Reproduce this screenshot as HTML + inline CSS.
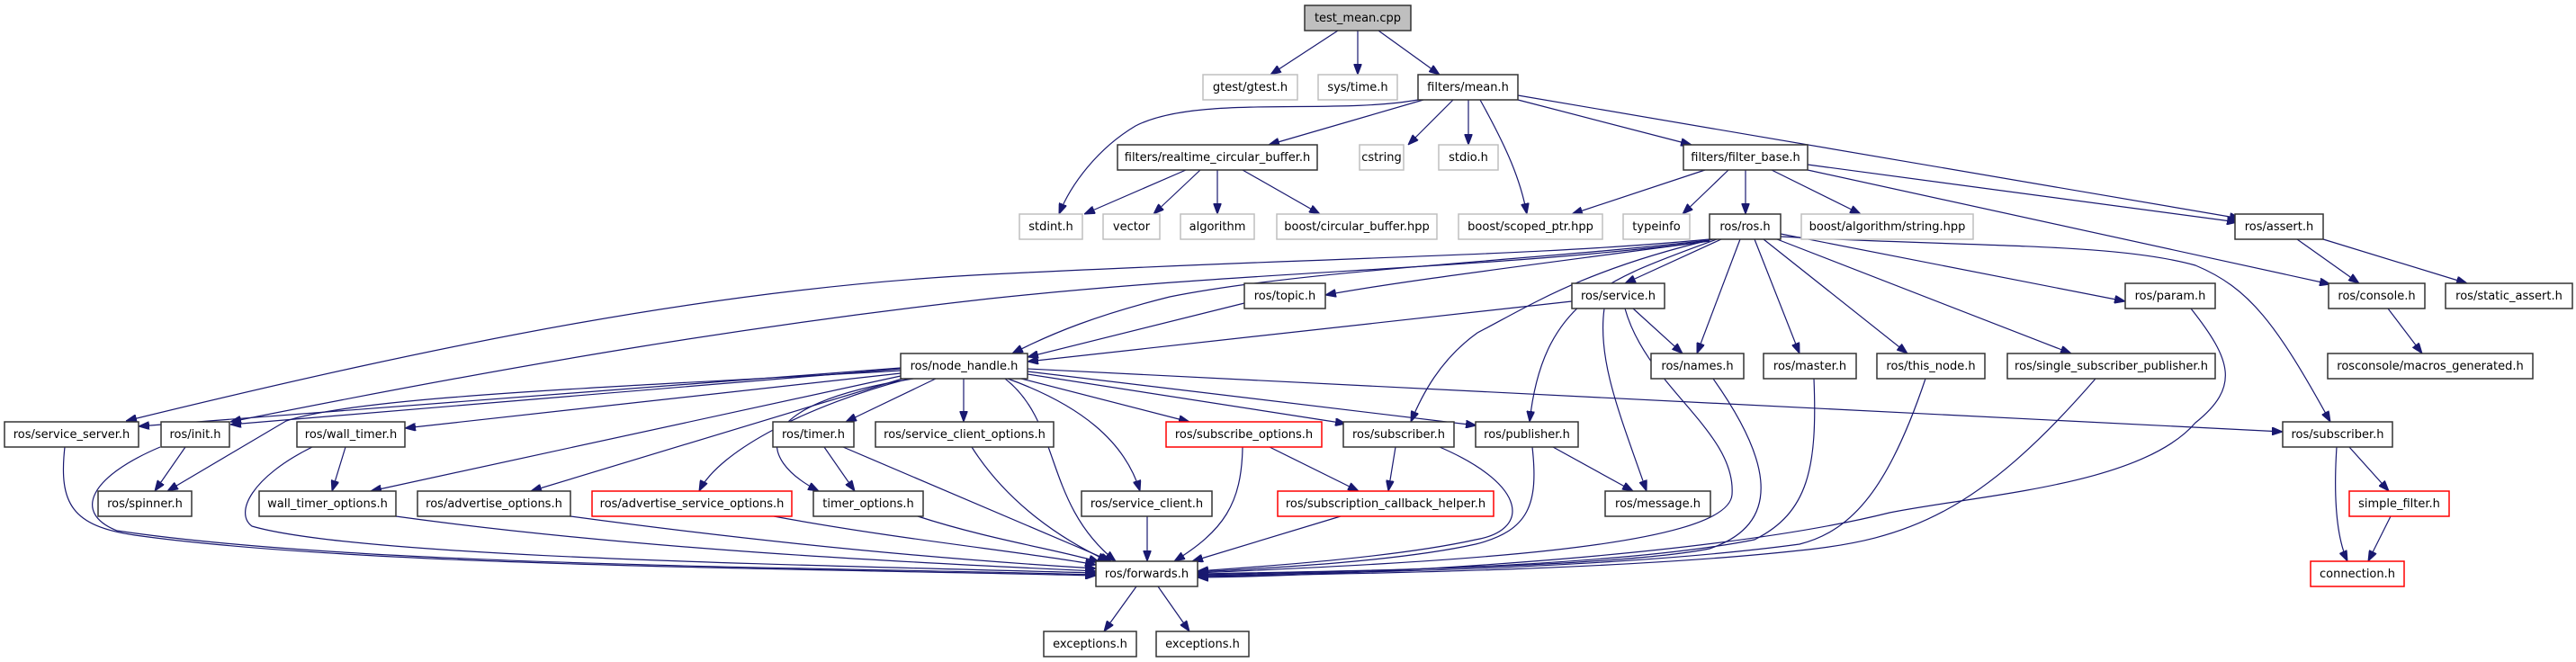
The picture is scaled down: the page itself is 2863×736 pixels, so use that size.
<!DOCTYPE html>
<html><head><meta charset="utf-8"><style>
html,body{margin:0;padding:0;background:#fff;}
svg{display:block;}
text{font-family:"DejaVu Sans","Liberation Sans",sans-serif;font-size:13px;fill:#000;text-anchor:middle;}
.n{fill:#fff;stroke:#333;stroke-width:1.5;}
.g{fill:#fff;stroke:#bfbfbf;stroke-width:1.5;}
.r{fill:#fff;stroke:#ff0000;stroke-width:1.5;}
.t{fill:#bfbfbf;stroke:#333;stroke-width:1.5;}
path.e{fill:none;stroke:#191970;stroke-width:1.2;marker-end:url(#a);}
</style></head><body>
<svg width="2863" height="736" viewBox="0 0 2863 736" xmlns="http://www.w3.org/2000/svg">
<defs><marker id="a" markerUnits="userSpaceOnUse" markerWidth="12" markerHeight="9" refX="12" refY="4.5" orient="auto"><path d="M0,0 L12,4.5 L0,9 z" fill="#191970" stroke="#191970"/></marker></defs>
<g>
<path class="e" d="M1487,34 L1412,83"/>
<path class="e" d="M1509,34 L1509,83"/>
<path class="e" d="M1532,34 L1600,83"/>
<path class="e" d="M1576,111 C1480,128 1330,105 1262,140 C1220,165 1190,205 1177,238"/>
<path class="e" d="M1582,111 L1410,161"/>
<path class="e" d="M1615,111 L1565,161"/>
<path class="e" d="M1632,111 L1632,161"/>
<path class="e" d="M1645,111 C1675,165 1690,200 1697,238"/>
<path class="e" d="M1687,111 L1880,161"/>
<path class="e" d="M1687,106 L2490,243"/>
<path class="e" d="M1318,189 L1205,238"/>
<path class="e" d="M1334,189 L1282,238"/>
<path class="e" d="M1353,189 L1353,238"/>
<path class="e" d="M1381,189 L1467,238"/>
<path class="e" d="M1895,189 L1747,238"/>
<path class="e" d="M1921,189 L1870,238"/>
<path class="e" d="M1940,189 L1940,238"/>
<path class="e" d="M1969,189 L2068,238"/>
<path class="e" d="M2009,183 L2487,247"/>
<path class="e" d="M2009,189 L2590,316"/>
<path class="e" d="M2553,266 L2622,315"/>
<path class="e" d="M2582,266 L2742,315"/>
<path class="e" d="M2654,343 L2692,393"/>
<path class="e" d="M1900,268 C1700,295 1560,312 1473,328"/>
<path class="e" d="M1913,266 L1806,315"/>
<path class="e" d="M1900,266 C1700,285 1500,285 1100,305 C800,320 500,380 140,468"/>
<path class="e" d="M1900,268 C1650,300 1400,300 1100,332 C850,360 600,400 256,469"/>
<path class="e" d="M1900,267 C1700,290 1450,300 1300,330 C1220,350 1170,370 1125,393"/>
<path class="e" d="M1904,266 C1760,300 1700,340 1642,370 C1600,400 1580,440 1568,469"/>
<path class="e" d="M1908,266 C1790,310 1715,330 1700,469"/>
<path class="e" d="M1934,266 L1886,393"/>
<path class="e" d="M1950,266 L2000,393"/>
<path class="e" d="M1960,266 L2120,393"/>
<path class="e" d="M1975,266 L2302,393"/>
<path class="e" d="M1979,260 L2362,335"/>
<path class="e" d="M1979,263 C2200,275 2350,270 2440,295 C2500,320 2530,360 2590,469"/>
<path class="e" d="M1383,337 L1142,397"/>
<path class="e" d="M1747,335 L1142,402"/>
<path class="e" d="M1815,343 L1870,393"/>
<path class="e" d="M1783,343 C1775,400 1800,460 1830,546"/>
<path class="e" d="M1806,343 C1830,430 1930,480 1925,550 C1920,610 1600,625 1331,637"/>
<path class="e" d="M1904,421 C1960,500 1990,580 1900,610 C1800,630 1500,635 1331,638"/>
<path class="e" d="M2016,421 C2020,520 2010,570 1950,600 C1800,630 1500,636 1331,639"/>
<path class="e" d="M2140,421 C2100,540 2060,590 2000,605 C1800,632 1500,637 1331,640"/>
<path class="e" d="M2329,421 C2200,570 2120,600 2000,612 C1800,634 1500,638 1331,641"/>
<path class="e" d="M2435,343 C2480,400 2490,430 2440,470 C2380,540 2200,550 2100,570 C1900,620 1500,640 1331,642"/>
<path class="e" d="M1001,409 L154,474"/>
<path class="e" d="M1001,410 L256,472"/>
<path class="e" d="M1001,412 C700,430 400,440 318,468 L186,546"/>
<path class="e" d="M1001,415 L450,476"/>
<path class="e" d="M1001,418 L412,546"/>
<path class="e" d="M1003,421 L590,546"/>
<path class="e" d="M1010,421 C900,450 800,500 777,546"/>
<path class="e" d="M1015,421 C830,450 840,510 910,546"/>
<path class="e" d="M1040,421 L940,469"/>
<path class="e" d="M1071,421 L1071,469"/>
<path class="e" d="M1117,421 C1180,470 1160,560 1240,624"/>
<path class="e" d="M1120,421 C1200,450 1250,490 1267,546"/>
<path class="e" d="M1135,421 L1322,469"/>
<path class="e" d="M1142,416 L1496,471"/>
<path class="e" d="M1142,413 L1641,473"/>
<path class="e" d="M1142,410 L2537,480"/>
<path class="e" d="M72,497 C65,560 80,585 150,595 C400,630 900,632 1218,640"/>
<path class="e" d="M178,497 C100,530 80,570 130,590 C400,630 900,630 1218,639"/>
<path class="e" d="M206,497 L172,546"/>
<path class="e" d="M347,497 C280,530 260,570 280,585 C400,620 900,628 1218,637"/>
<path class="e" d="M384,497 L369,546"/>
<path class="e" d="M440,574 C700,610 1000,625 1218,635"/>
<path class="e" d="M634,574 C900,610 1100,625 1218,632"/>
<path class="e" d="M860,574 C1000,600 1150,615 1218,628"/>
<path class="e" d="M1020,574 C1100,600 1180,612 1222,625"/>
<path class="e" d="M916,497 L950,546"/>
<path class="e" d="M937,497 L1235,624"/>
<path class="e" d="M1080,497 C1120,560 1180,600 1232,624"/>
<path class="e" d="M1275,574 L1275,624"/>
<path class="e" d="M1381,497 C1380,560 1360,590 1305,624"/>
<path class="e" d="M1411,497 L1510,546"/>
<path class="e" d="M1551,497 L1543,546"/>
<path class="e" d="M1600,497 C1700,540 1700,590 1640,600 C1550,620 1400,630 1331,635"/>
<path class="e" d="M1703,497 C1710,560 1700,590 1640,605 C1550,625 1400,632 1331,636"/>
<path class="e" d="M1726,497 L1815,546"/>
<path class="e" d="M1490,574 L1325,624"/>
<path class="e" d="M1263,652 L1227,702"/>
<path class="e" d="M1287,652 L1322,702"/>
<path class="e" d="M2611,497 L2655,546"/>
<path class="e" d="M2597,497 C2593,560 2598,600 2609,624"/>
<path class="e" d="M2657,574 L2632,624"/>
</g>
<g>
<rect class="t" x="1450" y="6" width="118" height="28"/><text x="1509" y="24">test_mean.cpp</text>
<rect class="g" x="1337" y="83" width="105" height="28"/><text x="1389.5" y="101">gtest/gtest.h</text>
<rect class="g" x="1465" y="83" width="88" height="28"/><text x="1509" y="101">sys/time.h</text>
<rect class="n" x="1576" y="83" width="111" height="28"/><text x="1631.5" y="101">filters/mean.h</text>
<rect class="n" x="1242" y="161" width="222" height="28"/><text x="1353" y="179">filters/realtime_circular_buffer.h</text>
<rect class="g" x="1511" y="161" width="49" height="28"/><text x="1535.5" y="179">cstring</text>
<rect class="g" x="1599" y="161" width="66" height="28"/><text x="1632" y="179">stdio.h</text>
<rect class="n" x="1871" y="161" width="138" height="28"/><text x="1940" y="179">filters/filter_base.h</text>
<rect class="g" x="1133" y="238" width="70" height="28"/><text x="1168" y="256">stdint.h</text>
<rect class="g" x="1226" y="238" width="63" height="28"/><text x="1257.5" y="256">vector</text>
<rect class="g" x="1312" y="238" width="82" height="28"/><text x="1353" y="256">algorithm</text>
<rect class="g" x="1419" y="238" width="178" height="28"/><text x="1508" y="256">boost/circular_buffer.hpp</text>
<rect class="g" x="1621" y="238" width="160" height="28"/><text x="1701" y="256">boost/scoped_ptr.hpp</text>
<rect class="g" x="1804" y="238" width="74" height="28"/><text x="1841" y="256">typeinfo</text>
<rect class="n" x="1900" y="238" width="79" height="28"/><text x="1939.5" y="256">ros/ros.h</text>
<rect class="g" x="2002" y="238" width="191" height="28"/><text x="2097.5" y="256">boost/algorithm/string.hpp</text>
<rect class="n" x="2484" y="238" width="98" height="28"/><text x="2533" y="256">ros/assert.h</text>
<rect class="n" x="1383" y="315" width="90" height="28"/><text x="1428" y="333">ros/topic.h</text>
<rect class="n" x="1747" y="315" width="103" height="28"/><text x="1798.5" y="333">ros/service.h</text>
<rect class="n" x="2362" y="315" width="100" height="28"/><text x="2412" y="333">ros/param.h</text>
<rect class="n" x="2588" y="315" width="107" height="28"/><text x="2641.5" y="333">ros/console.h</text>
<rect class="n" x="2718" y="315" width="141" height="28"/><text x="2788.5" y="333">ros/static_assert.h</text>
<rect class="n" x="1001" y="393" width="141" height="28"/><text x="1071.5" y="411">ros/node_handle.h</text>
<rect class="n" x="1835" y="393" width="103" height="28"/><text x="1886.5" y="411">ros/names.h</text>
<rect class="n" x="1960" y="393" width="103" height="28"/><text x="2011.5" y="411">ros/master.h</text>
<rect class="n" x="2086" y="393" width="120" height="28"/><text x="2146" y="411">ros/this_node.h</text>
<rect class="n" x="2231" y="393" width="231" height="28"/><text x="2346.5" y="411">ros/single_subscriber_publisher.h</text>
<rect class="n" x="2587" y="393" width="228" height="28"/><text x="2701" y="411">rosconsole/macros_generated.h</text>
<rect class="n" x="5" y="469" width="149" height="28"/><text x="79.5" y="487">ros/service_server.h</text>
<rect class="n" x="179" y="469" width="76" height="28"/><text x="217" y="487">ros/init.h</text>
<rect class="n" x="330" y="469" width="120" height="28"/><text x="390" y="487">ros/wall_timer.h</text>
<rect class="n" x="859" y="469" width="90" height="28"/><text x="904" y="487">ros/timer.h</text>
<rect class="n" x="973" y="469" width="198" height="28"/><text x="1072" y="487">ros/service_client_options.h</text>
<rect class="r" x="1296" y="469" width="173" height="28"/><text x="1382.5" y="487">ros/subscribe_options.h</text>
<rect class="n" x="1493" y="469" width="123" height="28"/><text x="1554.5" y="487">ros/subscriber.h</text>
<rect class="n" x="1640" y="469" width="114" height="28"/><text x="1697" y="487">ros/publisher.h</text>
<rect class="n" x="2537" y="469" width="122" height="28"/><text x="2598" y="487">ros/subscriber.h</text>
<rect class="n" x="109" y="546" width="104" height="28"/><text x="161" y="564">ros/spinner.h</text>
<rect class="n" x="288" y="546" width="152" height="28"/><text x="364" y="564">wall_timer_options.h</text>
<rect class="n" x="464" y="546" width="170" height="28"/><text x="549" y="564">ros/advertise_options.h</text>
<rect class="r" x="658" y="546" width="222" height="28"/><text x="769" y="564">ros/advertise_service_options.h</text>
<rect class="n" x="904" y="546" width="122" height="28"/><text x="965" y="564">timer_options.h</text>
<rect class="n" x="1202" y="546" width="145" height="28"/><text x="1274.5" y="564">ros/service_client.h</text>
<rect class="r" x="1420" y="546" width="240" height="28"/><text x="1540" y="564">ros/subscription_callback_helper.h</text>
<rect class="n" x="1784" y="546" width="117" height="28"/><text x="1842.5" y="564">ros/message.h</text>
<rect class="r" x="2611" y="546" width="111" height="28"/><text x="2666.5" y="564">simple_filter.h</text>
<rect class="n" x="1218" y="624" width="113" height="28"/><text x="1274.5" y="642">ros/forwards.h</text>
<rect class="r" x="2568" y="624" width="104" height="28"/><text x="2620" y="642">connection.h</text>
<rect class="n" x="1160" y="702" width="103" height="28"/><text x="1211.5" y="720">exceptions.h</text>
<rect class="n" x="1285" y="702" width="103" height="28"/><text x="1336.5" y="720">exceptions.h</text>
</g>
</svg>
</body></html>
